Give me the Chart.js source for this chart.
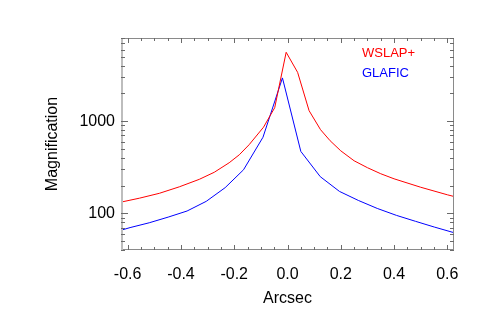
<!DOCTYPE html>
<html>
<head>
<meta charset="utf-8">
<script src="https://cdn.jsdelivr.net/npm/chart.js@4/dist/chart.umd.min.js"></script>
<style>
html,body{margin:0;padding:0;background:#fff;}
#wrap{width:491px;height:327px;position:relative;}
</style>
</head>
<body>
<div id="wrap"><canvas id="c" width="491" height="327"></canvas></div>
<script>
// ---- data ----
const seriesNames = ["WSLAP+", "GLAFIC"];
const seriesColors = ["rgb(255,0,0)", "rgb(0,0,255)"];

const redX = [-0.65, -0.627, -0.556, -0.481, -0.406, -0.331, -0.275, -0.219, -0.181, -0.144, -0.09, -0.048, -0.005, 0.038, 0.081, 0.124, 0.16, 0.2, 0.25, 0.3, 0.35, 0.4, 0.5, 0.6, 0.65];
const redY = [126, 132, 146, 165, 194, 234, 279, 354, 432, 556, 861, 1402, 5600, 3390, 1301, 809, 614, 477, 372, 313, 269, 237, 192, 159, 146];

const blueX = [-0.662, -0.591, -0.519, -0.448, -0.377, -0.305, -0.234, -0.165, -0.092, -0.019, 0.05, 0.123, 0.195, 0.266, 0.337, 0.409, 0.48, 0.551, 0.622, 0.694];
const blueY = [61, 70, 79, 91, 106, 135, 190, 297, 670, 2950, 470, 250, 173, 138, 113, 95, 82, 71, 62, 56];

const xRange = [-0.625, 0.625];
const yRange = [40, 8000];
const xTickLabels = [-0.6, -0.4, -0.2, 0.0, 0.2, 0.4, 0.6];
const xMinorTicks = [-0.55, -0.5, -0.45, -0.35, -0.3, -0.25, -0.15, -0.1, -0.05, 0.05, 0.1, 0.15, 0.25, 0.3, 0.35, 0.45, 0.5, 0.55];
const yTickLabels = [100, 1000];
const yMinorTicks = [40, 50, 60, 70, 80, 90, 200, 300, 400, 500, 600, 700, 800, 900, 2000, 3000, 4000, 5000, 6000, 7000, 8000];

const xTitle = "Arcsec";
const yTitle = "Magnification";

// ---- build ----
function pts(xs, ys) { return xs.map((x, i) => ({x: x, y: ys[i]})); }

const FONT = "'Liberation Sans', Arial, Helvetica, sans-serif";

const boxPlugin = {
  id: 'box',
  afterDatasetsDraw(chart) {
    const ctx = chart.ctx;
    const a = chart.chartArea;
    const xs = chart.scales.x, ys = chart.scales.y;
    ctx.save();
    // frame
    ctx.strokeStyle = '#8a8a8a';
    ctx.lineWidth = 1;
    ctx.beginPath();
    ctx.moveTo(a.left, a.top + 0.5); ctx.lineTo(a.right, a.top + 0.5);
    ctx.moveTo(a.right - 0.5, a.top); ctx.lineTo(a.right - 0.5, a.bottom);
    ctx.moveTo(a.left, a.bottom - 0.5); ctx.lineTo(a.right, a.bottom - 0.5);
    ctx.stroke();
    ctx.strokeStyle = '#bdbdbd';
    ctx.lineWidth = 2;
    ctx.beginPath();
    ctx.moveTo(a.left + 1, a.top); ctx.lineTo(a.left + 1, a.bottom);
    ctx.stroke();
    // ticks
    ctx.strokeStyle = '#6a6a6a';
    ctx.lineWidth = 1;
    ctx.beginPath();
    const xt = (v, len) => {
      const p = Math.round(xs.getPixelForValue(v)) + 0.5;
      ctx.moveTo(p, a.bottom); ctx.lineTo(p, a.bottom - len);
      ctx.moveTo(p, a.top); ctx.lineTo(p, a.top + len);
    };
    const yt = (v, len) => {
      const p = Math.round(ys.getPixelForValue(v)) + 0.5;
      ctx.moveTo(a.left, p); ctx.lineTo(a.left + len, p);
      ctx.moveTo(a.right, p); ctx.lineTo(a.right - len, p);
    };
    xTickLabels.forEach(v => xt(v, 5));
    xMinorTicks.forEach(v => xt(v, 3));
    yTickLabels.forEach(v => yt(v, 7));
    yMinorTicks.forEach(v => yt(v, 4));
    ctx.stroke();
    // legend
    ctx.font = '13px ' + FONT;
    ctx.textAlign = 'left';
    ctx.textBaseline = 'alphabetic';
    chart.data.datasets.forEach((ds, i) => {
      ctx.fillStyle = ds.borderColor;
      ctx.fillText(ds.label, 362, 57 + i * 20);
    });
    ctx.restore();
  }
};

new Chart(document.getElementById('c'), {
  type: 'scatter',
  data: {
    datasets: [
      {label: seriesNames[0], data: pts(redX, redY), borderColor: seriesColors[0], showLine: true, borderWidth: 1, pointRadius: 0, tension: 0},
      {label: seriesNames[1], data: pts(blueX, blueY), borderColor: seriesColors[1], showLine: true, borderWidth: 1, pointRadius: 0, tension: 0}
    ]
  },
  options: {
    responsive: false,
    animation: false,
    devicePixelRatio: 1,
    layout: {padding: {left: 0, top: 38, right: 37, bottom: 0}},
    plugins: {legend: {display: false}, tooltip: {enabled: false}},
    scales: {
      x: {
        type: 'linear', min: xRange[0], max: xRange[1],
        grid: {display: false, drawTicks: false},
        border: {display: false},
        ticks: {
          includeBounds: false, padding: 15, color: '#000',
          font: {family: FONT, size: 16},
          callback: v => v.toFixed(1)
        },
        afterBuildTicks: s => { s.ticks = xTickLabels.map(v => ({value: v})); },
        afterFit: s => { s.height = 77; },
        title: {display: true, text: xTitle, color: '#000', font: {family: FONT, size: 16}, padding: {top: 0, bottom: 18.5}}
      },
      y: {
        type: 'logarithmic', min: yRange[0], max: yRange[1],
        grid: {display: false, drawTicks: false},
        border: {display: false},
        ticks: {
          padding: 6, color: '#000',
          font: {family: FONT, size: 16},
          callback: v => String(v)
        },
        afterBuildTicks: s => { s.ticks = yTickLabels.map(v => ({value: v})); },
        afterFit: s => { s.width = 121; },
        title: {display: true, text: yTitle, color: '#000', font: {family: FONT, size: 16}, padding: {top: 43, bottom: 0}}
      }
    }
  },
  plugins: [boxPlugin]
});
</script>
</body>
</html>
